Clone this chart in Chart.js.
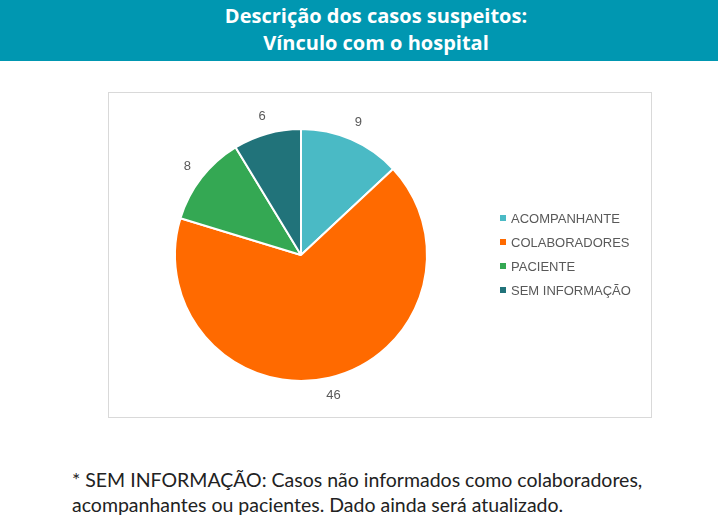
<!DOCTYPE html>
<html>
<head>
<meta charset="utf-8">
<script src="https://cdn.jsdelivr.net/npm/chart.js@4/dist/chart.umd.min.js"></script>
<style>
  body { margin: 0; background: #fff; width: 718px; height: 530px; position: relative; overflow: hidden; }
  #topo { position: absolute; left: 0; top: 0; width: 718px; height: 61px; background: #0097B1; }
  #titulo { position: absolute; left: 102px; top: 2px; width: 548px; text-align: center; color: #fff;
    font-family: "Open Sans", sans-serif; font-weight: 700; font-size: 20px; line-height: 27px; }
  #caixa { position: absolute; left: 108px; top: 92px; width: 544px; height: 326px; box-sizing: border-box; border: 1px solid #d9d9d9; }
  #myChart { position: absolute; left: 108px; top: 92px; }
  #nota { position: absolute; left: 72px; top: 467px; color: #222; font-family: Lato, sans-serif; font-size: 19.5px; line-height: 25px; }
</style>
</head>
<body>
<div id="topo"></div>
<div id="titulo">Descrição dos casos suspeitos:<br>Vínculo com o hospital</div>
<div id="caixa"></div>
<canvas id="myChart" width="544" height="326"></canvas>
<div id="nota">* SEM INFORMAÇÃO: Casos não informados como colaboradores,<br>acompanhantes ou pacientes. Dado ainda será atualizado.</div>
<script>
// categorias e valores
const categorias = ['ACOMPANHANTE', 'COLABORADORES', 'PACIENTE', 'SEM INFORMAÇÃO'];
const valores = [9, 46, 8, 6];
const cores = ['#4ABAC5', '#FF6A00', '#34A853', '#21737A'];

// rotulos de valor fora de cada fatia + legenda a direita
const rotulosPlugin = {
  id: 'rotulos',
  afterDraw(chart) {
    const c = chart.ctx;
    const meta = chart.getDatasetMeta(0);
    c.save();
    c.fillStyle = '#595959';
    c.font = '13px "Liberation Sans", Arial, sans-serif';
    c.textAlign = 'center';
    c.textBaseline = 'middle';
    meta.data.forEach((arc, i) => {
      const meio = (arc.startAngle + arc.endAngle) / 2;
      const r = arc.outerRadius + 18;
      c.fillText(String(valores[i]), arc.x + Math.cos(meio) * r, arc.y + Math.sin(meio) * r);
    });

    // legenda
    c.font = '13px "Liberation Sans", Arial, sans-serif';
    c.textAlign = 'left';
    categorias.forEach((nome, i) => {
      const y = 126 + i * 24;
      c.fillStyle = cores[i];
      c.fillRect(392, y - 3, 6, 6);
      c.fillStyle = '#595959';
      c.fillText(nome, 403, y + 1);
    });
    c.restore();
  }
};

const ctx = document.getElementById('myChart').getContext('2d');
const grafico = new Chart(ctx, {
  type: 'pie',
  data: {
    labels: categorias,
    datasets: [{
      data: valores,
      backgroundColor: cores,
      borderColor: '#ffffff',
      borderWidth: 2
    }]
  },
  options: {
    responsive: false,
    animation: false,
    layout: { padding: { left: 66, right: 224, top: 36, bottom: 36 } },
    plugins: {
      legend: { display: false },
      tooltip: { enabled: false }
    }
  },
  plugins: [rotulosPlugin]
});
</script>
</body>
</html>
